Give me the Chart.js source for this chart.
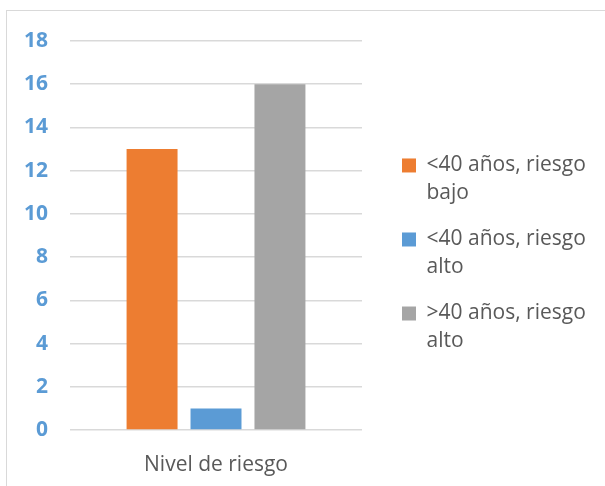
<!DOCTYPE html>
<html>
<head>
<meta charset="utf-8">
<script src="https://cdn.jsdelivr.net/npm/chart.js@4.4.0/dist/chart.umd.min.js"></script>
<style>
  html, body { margin: 0; padding: 0; background: #fff; }
  #frame {
    position: absolute; left: 6px; top: 10px; width: 620px; height: 490px;
    border: 1px solid #d9d9d9; box-sizing: border-box;
  }
  #wrap { position: absolute; left: 0; top: 0; width: 605px; height: 486px; }
</style>
</head>
<body>
<div id="frame"></div>
<div id="wrap"><canvas id="riskChart" width="605" height="486"></canvas></div>
<script>
const categories = ["Nivel de riesgo"];
const seriesNames = [
  ["<40 años, riesgo", "bajo"],
  ["<40 años, riesgo", "alto"],
  [">40 años, riesgo", "alto"]
];
const seriesValues = [[13], [1], [16]];
const seriesColors = ["#ED7D31", "#5B9BD5", "#A5A5A5"];
const yTicks = [0, 2, 4, 6, 8, 10, 12, 14, 16, 18];

const FONT = "'Open Sans', sans-serif";
const LEGEND_WIDTH = 222;

const datasets = seriesNames.map((name, i) => ({
  label: name,
  data: seriesValues[i],
  backgroundColor: seriesColors[i],
  borderWidth: 0,
  categoryPercentage: 0.657,
  barPercentage: 0.797
}));

// the legend would otherwise be capped at a quarter of the canvas width
const wideLegend = {
  id: "wideLegend",
  beforeLayout(chart) {
    const lg = chart.legend;
    if (lg && !lg._wide) {
      const fit = lg.fit.bind(lg);
      lg.fit = () => { fit(); lg.width = LEGEND_WIDTH; };
      lg._wide = true;
    }
  }
};

new Chart(document.getElementById("riskChart"), {
  type: "bar",
  data: { labels: categories, datasets: datasets },
  plugins: [wideLegend],
  options: {
    responsive: false,
    animation: false,
    layout: { padding: { left: 2, top: 41, right: 0, bottom: 8 } },
    plugins: {
      tooltip: { enabled: false },
      legend: {
        position: "right",
        fullSize: false,
        // blank title just pushes the entries down a little
        title: { display: true, text: " ", padding: 15, font: { size: 10 } },
        labels: {
          boxWidth: 14,
          boxHeight: 14,
          padding: 19,
          color: "#595959",
          font: { family: FONT, size: 21, lineHeight: 1.31 }
        }
      }
    },
    scales: {
      x: {
        grid: { display: false },
        border: { display: false },
        afterFit: (s) => { s.height = 48; },
        ticks: {
          color: "#595959",
          padding: 14,
          font: { family: FONT, size: 21 }
        }
      },
      y: {
        min: 0,
        max: 18,
        afterBuildTicks: (axis) => { axis.ticks = yTicks.map(v => ({ value: v })); },
        grid: { color: "#d9d9d9", lineWidth: 1.5, drawTicks: false },
        border: { display: false },
        ticks: {
          color: "#5B9BD5",
          padding: 22,
          font: { family: FONT, size: 21, weight: "bold" }
        }
      },
      // empty spacer between the plot and the legend
      gap: {
        type: "linear",
        position: "right",
        grid: { display: false },
        border: { display: false },
        ticks: { display: false },
        afterFit: (s) => { s.width = 21; }
      }
    }
  }
});
</script>
</body>
</html>
